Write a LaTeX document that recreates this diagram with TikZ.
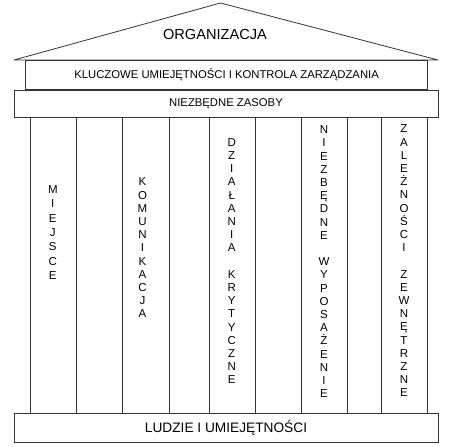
\documentclass[tikz,border=0pt]{standalone}
\usepackage{fontspec}
\setmainfont{Liberation Sans}
\usepackage{tikz}
\usetikzlibrary{positioning}

\begin{document}
\begin{tikzpicture}[x=1pt,y=1pt,line width=0.8pt,
    box node/.style={rectangle,draw=black!80,inner sep=0pt,font=\fontsize{11.3}{13}\selectfont},
    pillar text/.style={inner sep=0pt,align=center,font=\fontsize{11.5}{13.2}\selectfont}]
  \useasboundingbox (0,0) rectangle (450,447);
  \begin{scope}
    % roof
    \coordinate (roofl) at (14,387);
    \coordinate (apex) at (220.5,444);
    \coordinate (roofr) at (438,387);
    \draw[black!80,line join=round] (roofl) -- (apex) -- (roofr) -- cycle;
    \node[inner sep=0pt,font=\fontsize{14.6}{16}\selectfont] (org) at (215,412.3) {ORGANIZACJA};

    % beams
    \node[box node,minimum width=402pt,minimum height=29pt] (beam) at (226.6,372.5) {KLUCZOWE UMIEJĘTNOŚCI I KONTROLA ZARZĄDZANIA};
    \node[box node,minimum width=424pt,minimum height=27pt] (res) at (226,343.5) {NIEZBĘDNE ZASOBY};
    \node[box node,minimum width=424pt,minimum height=29pt,font=\fontsize{13.7}{15}\selectfont] (base) at (226,19.5) {LUDZIE I UMIEJĘTNOŚCI};

    % pillars
    \coordinate (t1) at (30.5,330);  \coordinate (b1) at (30.5,34);
    \coordinate (t2) at (76,330);    \coordinate (b2) at (76,34);
    \coordinate (t3) at (122.7,330); \coordinate (b3) at (122.7,34);
    \coordinate (t4) at (169,330);   \coordinate (b4) at (169,34);
    \coordinate (t5) at (209.3,330); \coordinate (b5) at (209.3,34);
    \coordinate (t6) at (255.7,330); \coordinate (b6) at (255.7,34);
    \coordinate (t7) at (301.5,330); \coordinate (b7) at (301.5,34);
    \coordinate (t8) at (347.5,330); \coordinate (b8) at (347.5,34);
    \coordinate (t9) at (381.7,330); \coordinate (b9) at (381.7,34);
    \coordinate (t10) at (427.5,330); \coordinate (b10) at (427.5,34);
    \path[-,draw=black!80] (t1) edge (b1);
    \path[-,draw=black!80] (t2) edge (b2);
    \path[-,draw=black!80] (t3) edge (b3);
    \path[-,draw=black!80] (t4) edge (b4);
    \path[-,draw=black!80] (t5) edge (b5);
    \path[-,draw=black!80] (t6) edge (b6);
    \path[-,draw=black!80] (t7) edge (b7);
    \path[-,draw=black!80] (t8) edge (b8);
    \path[-,draw=black!80] (t9) edge (b9);
    \path[-,draw=black!80] (t10) edge (b10);

    % pillar labels
    \node[pillar text,font=\fontsize{11.5}{14.4}\selectfont] (place) at (52.8,214.5) {M\\I\\E\\J\\S\\C\\E};
    \node[pillar text] (comm) at (142.5,199) {K\\O\\M\\U\\N\\I\\K\\A\\C\\J\\A};
    \node[pillar text] (crit) at (231.7,185.8) {D\\Z\\I\\A\\Ł\\A\\N\\I\\A\\[13.2pt]K\\R\\Y\\T\\Y\\C\\Z\\N\\E};
    \node[pillar text] (equip) at (324,185.3) {N\\I\\E\\Z\\B\\Ę\\D\\N\\E\\[13.2pt]W\\Y\\P\\O\\S\\A\\Ż\\E\\N\\I\\E};
    \node[pillar text] (ext) at (404,186) {Z\\A\\L\\E\\Ż\\N\\O\\Ś\\C\\I\\[13.2pt]Z\\E\\W\\N\\Ę\\T\\R\\Z\\N\\E};
  \end{scope}
\end{tikzpicture}
\end{document}
